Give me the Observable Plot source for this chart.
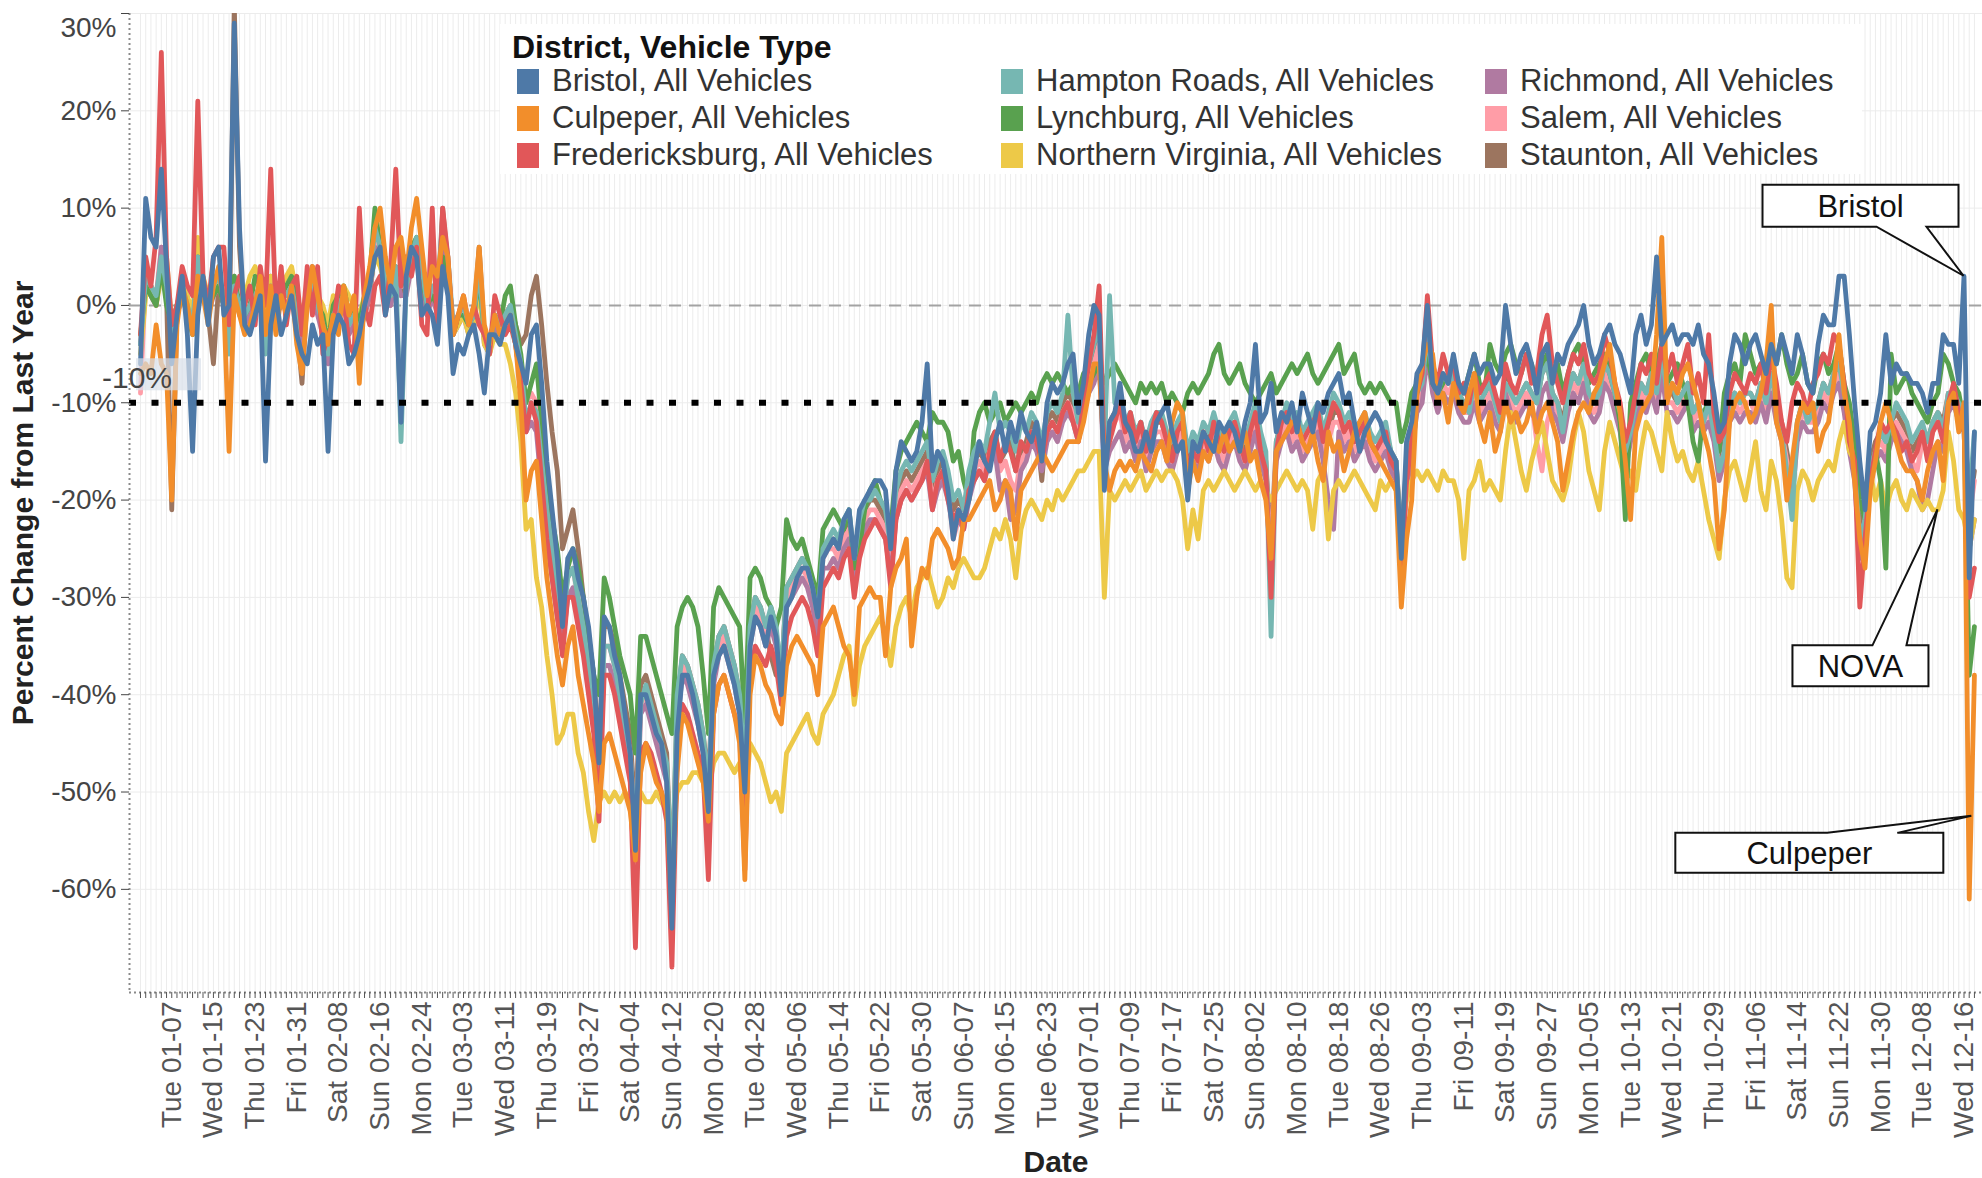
<!DOCTYPE html>
<html>
<head>
<meta charset="utf-8">
<script src="https://cdn.jsdelivr.net/npm/d3@7"></script>
<script src="https://cdn.jsdelivr.net/npm/@observablehq/plot@0.6"></script>
<style>
html, body { margin: 0; padding: 0; background: #fff; overflow: hidden; }
#wrap { position: relative; width: 1982px; height: 1178px; font-family: "Liberation Sans", Arial, sans-serif; }
#wrap svg { position: absolute; left: 0; top: 0; }
.lg { position: absolute; white-space: nowrap; color: #333; }
</style>
</head>
<body>
<div id="wrap"></div>
<script>
// ---------- categories ----------
const districts = ["Bristol", "Culpeper", "Fredericksburg", "Hampton Roads", "Lynchburg", "Northern Virginia", "Richmond", "Salem", "Staunton"];
const palette = ["#4e79a7", "#f28e2b", "#e15759", "#76b7b2", "#59a14f", "#edc948", "#b07aa1", "#ff9da7", "#9c755f"];
const yTicks = [-60, -50, -40, -30, -20, -10, 0, 10, 20, 30];
const firstDay = "2020-01-01"; // series below are daily from this date

// ---------- series (percent change from last year, one value per day) ----------
const bristol = [
-6,11,7,6,14,4,-6, -1,3,-3,-15,-1,3,-2, 5,6,-1,0,29,8,-2, -3,-1,1,-16,-2,1,-3,
-1,1,-3,-5,-6,-2,-4, -3,-15,-3,-1,-2,-6,-5, -3,0,2,5,6,-1,2, 1,-12,3,6,5,-1,0,
-1,-4,4,1,-7,-4,-5, -3,-2,-5,-9,-3,-3,-4, -2,-1,-4,-6,-8,-3,-2, -8,-16,-21,-26,-33,-26,-25,
-28,-30,-33,-38,-47,-32,-33, -36,-38,-42,-46,-56,-40,-40, -42,-44,-45,-49,-64,-44,-38, -38,-40,-43,-46,-52,-38,-36,
-35,-37,-39,-42,-50,-35,-32, -33,-35,-32,-34,-40,-31,-30, -28,-27,-27,-29,-32,-26,-25, -24,-25,-22,-21,-26,-21,-20,
-19,-18,-18,-19,-25,-17,-14, -15,-16,-15,-12,-6,-17,-15, -16,-19,-24,-21,-22,-20,-17, -14,-16,-17,-14,-12,-15,-12,
-14,-11,-13,-14,-12,-16,-10, -8,-9,-8,-6,-5,-11,-8, -3,0,-1,-19,-12,-11,-8, -12,-13,-15,-15,-13,-15,-12,
-11,-10,-13,-15,-14,-20,-14, -15,-13,-14,-15,-12,-13,-12, -13,-15,-12,-10,-4,-12,-11, -8,-13,-11,-12,-10,-13,-9,
-11,-13,-10,-11,-9,-8,-7, -10,-9,-12,-15,-13,-12,-11, -12,-14,-15,-16,-26,-14,-12, -7,-6,0,-8,-9,-7,-8,
-5,-8,-9,-7,-5,-7,-6, -6,-8,-7,0,-4,-7,-5, -4,-6,-9,-5,-4,-8,-5, -6,-4,-3,-2,0,-4,-6,
-5,-3,-2,-4,-5,-7,-9, -3,-1,-4,-2,5,-4,-3, -2,-4,-3,-3,-4,-2,-5, -6,-9,-13,-12,-6,-3,-4,
-6,-4,-3,-5,-7,-4,-6, -3,-5,-7,-3,-5,-8,-9, -4,-1,-2,-2,3,3,-3, -10,-16,-21,-13,-12,-9,-3,
-8,-6,-7,-7,-8,-8,-9, -11,-8,-8,-3,-4,-4,-8, 3,-28,-13];

const culpeper = [
-7,-6,-7,-2,-6,-7,-20, -2,2,0,-3,3,1,-2, 2,4,0,-15,1,-1,-3, -2,0,3,-3,2,-3,1,
-1,2,-4,-7,0,4,1, -2,-4,-1,-3,2,-1,1, -8,1,4,8,10,5,2, 6,7,3,8,11,6,1,
4,3,7,5,-3,-1,1, -2,0,6,-2,-4,-1,-3, -2,-1,-4,-10,-20,-17,-16, -22,-28,-32,-36,-39,-35,-33,
-38,-41,-44,-47,-52,-45,-44, -46,-48,-50,-52,-57,-48,-45, -47,-49,-50,-52,-62,-48,-42, -43,-45,-47,-49,-53,-42,-39,
-38,-40,-42,-45,-59,-40,-36, -37,-39,-40,-42,-43,-37,-35, -34,-35,-36,-37,-40,-33,-32, -31,-33,-35,-36,-40,-31,-30,
-29,-30,-30,-36,-29,-27,-26, -24,-35,-30,-27,-28,-24,-23, -24,-25,-27,-26,-22,-22,-21, -20,-19,-18,-21,-20,-18,-19,
-24,-19,-18,-17,-16,-15,-16, -17,-16,-15,-14,-14,-14,-12, -9,-6,-6,-16,-19,-17,-16, -17,-16,-17,-15,-16,-17,-15,
-14,-16,-12,-10,-11,-19,-16, -18,-15,-16,-14,-15,-13,-15, -14,-15,-13,-16,-15,-18,-20, -26,-15,-14,-13,-12,-12,-14,
-15,-13,-16,-18,-13,-15,-14, -17,-15,-13,-12,-11,-14,-15, -16,-17,-18,-19,-31,-24,-20, -9,-6,-4,-5,-10,-9,-12,
-8,-10,-11,-9,-7,-12,-14, -11,-15,-13,-10,-12,-11,-13, -12,-10,-13,-11,-10,-12,-14, -19,-16,-13,-11,-10,-11,-9,
-8,-6,-4,-8,-11,-16,-22, -13,-11,-10,-9,-3,7,-10, -8,-9,-7,-6,-8,-10,-13, -15,-18,-25,-21,-12,-10,-9,
-10,-12,-11,-9,-6,0,-12, -14,-20,-16,-12,-10,-11,-10, -15,-13,-12,-8,-3,-9,-12, -18,-24,-27,-19,-16,-12,-10,
-12,-14,-16,-17,-17,-18,-20, -17,-15,-14,-18,-10,-9,-13, -10,-61,-38];

const fredericksburg = [
-3,5,2,7,26,5,-2, 0,4,2,1,21,3,0, 5,6,6,-2,1,3,0, 2,-2,4,0,14,-1,4,
-2,2,3,-3,4,-1,4, -5,-3,-2,2,1,-4,-5, 10,0,-2,2,3,-1,4, 14,2,5,3,6,-2,-3,
10,-3,10,5,-3,-1,1, -2,0,-2,-3,-5,1,-1, -3,-2,-4,-8,-13,-10,-12, -18,-24,-28,-32,-36,-30,-30,
-33,-36,-40,-44,-53,-38,-38, -40,-43,-46,-49,-66,-46,-45, -46,-48,-50,-53,-68,-47,-41, -42,-44,-46,-48,-59,-42,-39,
-38,-40,-42,-44,-58,-38,-35, -36,-37,-35,-37,-41,-34,-32, -31,-30,-31,-33,-36,-29,-28, -27,-28,-26,-25,-30,-26,-24,
-23,-22,-23,-24,-29,-22,-20, -19,-20,-19,-18,-16,-21,-18, -17,-20,-22,-21,-23,-19,-18, -17,-18,-15,-13,-16,-14,-15,
-17,-14,-15,-13,-14,-16,-13, -12,-13,-11,-10,-12,-14,-10, -6,-3,2,-16,-14,-12,-10, -13,-11,-14,-12,-15,-13,-11,
-12,-14,-16,-13,-12,-17,-15, -16,-13,-15,-12,-14,-15,-13, -12,-14,-16,-13,-11,-15,-17, -30,-15,-12,-11,-13,-12,-14,
-13,-12,-11,-14,-12,-10,-11, -13,-12,-14,-13,-12,-14,-15, -14,-13,-16,-17,-28,-18,-14, -9,-7,1,-6,-8,-5,-7,
-6,-9,-8,-10,-7,-9,-8, -7,-9,-11,-6,-8,-9,-7, -5,-8,-7,-3,-1,-6,-8, -10,-7,-5,-6,-4,-7,-8,
-7,-3,-5,-8,-10,-14,-12, -9,-6,-7,-5,-8,-4,-7, -5,-8,-6,-4,-9,-7,-10, -3,-11,-14,-13,-9,-7,-8,
-9,-7,-8,-6,-9,-5,-8, -12,-14,-10,-8,-9,-11,-8, -7,-5,-6,-3,-4,-8,-14, -16,-31,-24,-18,-15,-12,-13,
-12,-13,-15,-14,-16,-15,-13, -16,-13,-12,-14,-10,-8,-11, -12,-30,-27];

const hamptonRoads = [
-4,3,2,1,5,2,-3, 0,2,0,-2,5,2,0, 2,3,1,-5,2,0,-1, 0,1,2,-5,2,0,1,
1,2,-1,-3,1,2,0, -2,-5,-1,0,1,-2,-1, -3,0,2,8,6,2,1, 4,-14,2,5,7,4,0,
2,1,9,5,-2,-1,0, -2,-1,4,-3,-4,-1,-2, -1,0,-3,-6,-12,-10,-11, -16,-21,-25,-29,-33,-28,-27,
-30,-33,-37,-40,-48,-35,-35, -37,-40,-43,-46,-55,-41,-39, -41,-43,-45,-47,-60,-40,-36, -37,-39,-41,-44,-50,-37,-34,
-33,-35,-37,-40,-48,-33,-30, -31,-33,-31,-33,-38,-29,-28, -27,-26,-27,-29,-32,-25,-24, -23,-24,-22,-21,-26,-22,-20,
-20,-19,-20,-21,-25,-19,-17, -16,-17,-16,-15,-14,-18,-16, -15,-17,-20,-19,-21,-17,-15, -14,-15,-12,-9,-13,-12,-13,
-15,-12,-13,-11,-12,-14,-11, -10,-11,-9,-1,-9,-12,-9, -6,-4,-2,-15,1,-10,-9, -12,-11,-13,-12,-14,-12,-11,
-11,-13,-14,-12,-11,-15,-13, -14,-12,-13,-11,-13,-14,-12, -11,-13,-14,-12,-10,-13,-15, -34,-14,-12,-10,-12,-11,-13,
-12,-11,-10,-13,-11,-9,-10, -12,-11,-13,-12,-11,-13,-14, -13,-12,-15,-16,-25,-16,-13, -9,-8,-3,-7,-9,-7,-8,
-7,-9,-10,-11,-8,-10,-9, -8,-10,-12,-8,-9,-10,-9, -8,-9,-10,-7,-6,-9,-10, -13,-9,-7,-8,-6,-9,-10,
-9,-6,-7,-9,-11,-15,-13, -10,-8,-9,-7,-9,-5,-9, -8,-10,-9,-8,-11,-10,-12, -10,-13,-17,-15,-10,-9,-10,
-9,-9,-10,-8,-10,-7,-10, -13,-17,-22,-12,-10,-12,-11, -10,-8,-9,-7,-6,-9,-13, -17,-24,-22,-17,-15,-13,-14,
-12,-10,-11,-12,-14,-13,-12, -14,-12,-11,-13,-9,-9,-10, -11,-20,-13];

const lynchburg = [
-3,2,1,0,4,0,-2, 0,1,-1,-3,5,2,0, 1,2,0,-4,3,0,-1, 0,3,2,-3,1,0,1,
2,3,0,-2,1,2,0, -1,-4,0,1,2,-1,0, -2,1,3,10,6,2,1, 4,3,2,6,7,3,0,
1,0,5,3,-3,-1,-1, -2,-1,3,-3,-4,-1,-2, 1,2,-2,-5,-10,-8,-6, -12,-17,-22,-25,-30,-27,-25,
-27,-30,-34,-38,-40,-28,-30, -33,-36,-38,-40,-46,-34,-34, -36,-38,-40,-42,-44,-33,-31, -30,-31,-33,-38,-44,-31,-29,
-30,-31,-32,-33,-43,-28,-27, -28,-30,-31,-33,-31,-22,-24, -25,-24,-26,-28,-30,-23,-22, -21,-22,-23,-21,-27,-25,-21,
-19,-18,-20,-21,-23,-17,-15, -14,-13,-12,-13,-14,-11,-12, -12,-13,-16,-15,-18,-20,-13, -11,-10,-12,-11,-10,-12,-11,
-10,-11,-10,-9,-10,-8,-7, -8,-7,-8,-9,-8,-9,-7, -8,-7,-6,-8,-7,-6,-7, -8,-9,-10,-8,-9,-8,-9,
-8,-10,-9,-10,-11,-9,-8, -9,-8,-7,-5,-4,-7,-8, -7,-6,-8,-9,-10,-9,-8, -7,-9,-8,-7,-6,-7,-6,
-5,-7,-8,-7,-6,-5,-4, -7,-6,-5,-8,-9,-8,-9, -8,-9,-10,-10,-14,-12,-9, -8,-7,-5,-8,-9,-8,-7,
-6,-8,-9,-7,-5,-8,-9, -4,-6,-7,-5,-4,-6,-7, -5,-6,-8,-6,-5,-7,-6, -9,-7,-5,-4,-6,-8,-7,
-6,-5,-7,-9,-12,-22,-10, -8,-6,-5,-7,-6,-4,-8, -7,-6,-8,-10,-14,-16,-11, -10,-12,-15,-9,-7,-6,-8,
-3,-5,-7,-6,-8,-4,-6, -3,-6,-8,-7,-5,-8,-9, -6,-5,-7,-6,-4,-8,-10, -14,-20,-22,-17,-15,-18,-27,
-5,-9,-8,-7,-9,-10,-11, -12,-10,-9,-5,-6,-8,-9, -12,-38,-33];

const northernVirginia = [
-5,1,2,0,3,5,-2, 0,2,1,-1,7,3,1, 2,3,1,-3,2,0,1, 3,4,2,-2,3,1,2,
3,4,1,-1,2,3,1, 0,-2,1,0,2,1,0, -1,1,2,5,4,2,1, 3,4,2,5,6,3,1,
2,1,4,3,-3,-2,-1, -3,-2,2,-4,-5,-3,-4, -4,-6,-9,-14,-23,-22,-28, -31,-36,-40,-45,-44,-42,-42,
-46,-48,-52,-55,-51,-50,-51, -50,-51,-50,-51,-52,-50,-51, -51,-50,-51,-52,-54,-50,-49, -49,-48,-48,-49,-50,-47,-46,
-46,-47,-48,-47,-52,-45,-46, -47,-49,-51,-50,-52,-46,-45, -44,-43,-42,-44,-45,-42,-41, -40,-38,-36,-35,-41,-37,-35,
-34,-33,-32,-34,-37,-33,-31, -30,-32,-29,-28,-27,-29,-31, -30,-28,-29,-27,-26,-27,-28, -28,-27,-25,-23,-24,-22,-24,
-28,-23,-21,-20,-21,-22,-20, -21,-19,-20,-19,-18,-17,-17, -16,-15,-15,-30,-19,-20,-19, -18,-19,-18,-17,-19,-18,-17,
-18,-17,-17,-18,-20,-25,-21, -24,-19,-18,-19,-18,-17,-18, -19,-18,-17,-18,-19,-18,-19, -20,-19,-18,-17,-18,-19,-18,
-19,-23,-18,-17,-24,-19,-18, -19,-18,-17,-18,-19,-20,-21, -18,-19,-18,-19,-23,-20,-18, -17,-18,-17,-18,-19,-17,-18,
-18,-20,-26,-19,-18,-16,-19, -18,-19,-20,-15,-11,-14,-17, -19,-16,-14,-12,-15,-18,-19, -20,-18,-14,-11,-13,-17,-19,
-21,-15,-12,-14,-16,-18,-17, -19,-15,-12,-13,-15,-17,-11, -14,-16,-15,-17,-18,-16,-19, -22,-24,-26,-20,-17,-16,-18,
-20,-17,-14,-19,-21,-16,-18, -22,-28,-29,-19,-17,-18,-20, -18,-17,-16,-17,-14,-12,-15, -16,-18,-19,-17,-20,-18,-21,
-19,-18,-20,-21,-19,-20,-21, -20,-21,-21,-19,-13,-16,-21, -22,-25,-22];

const richmond = [
-4,2,1,0,6,1,-3, -1,1,0,-2,4,1,-1, 1,2,0,-4,3,-1,-2, -1,0,1,-4,3,-1,0,
0,1,-2,-4,1,1,-1, -3,-6,-2,-1,0,-3,-2, -2,-1,1,6,5,1,0, 3,1,1,4,6,2,-1,
1,-1,6,4,-3,-2,-1, -3,-2,3,-4,-5,-2,-3, -2,-1,-4,-8,-13,-12,-13, -19,-24,-28,-32,-35,-30,-29,
-32,-35,-39,-42,-50,-37,-37, -39,-42,-45,-48,-57,-42,-41, -43,-45,-47,-49,-62,-43,-38, -39,-41,-43,-46,-52,-39,-36,
-35,-37,-39,-42,-50,-35,-32, -33,-35,-33,-35,-39,-31,-30, -29,-28,-29,-31,-34,-27,-27, -26,-27,-25,-24,-29,-25,-23,
-22,-22,-23,-24,-28,-22,-20, -19,-20,-19,-18,-17,-21,-19, -18,-20,-23,-22,-23,-20,-18, -17,-18,-16,-15,-19,-18,-22,
-21,-17,-16,-14,-15,-17,-14, -13,-14,-12,-11,-12,-14,-11, -9,-8,-6,-17,-15,-14,-13, -15,-14,-16,-14,-17,-15,-14,
-14,-16,-17,-15,-14,-18,-16, -17,-15,-16,-14,-16,-17,-15, -14,-16,-17,-15,-13,-16,-18, -27,-16,-14,-13,-15,-14,-16,
-15,-14,-13,-16,-20,-23,-13, -15,-14,-16,-15,-14,-16,-17, -16,-15,-17,-18,-27,-19,-15, -11,-10,-5,-9,-11,-9,-10,
-9,-11,-12,-12,-10,-12,-11, -10,-12,-13,-9,-11,-12,-11, -10,-11,-12,-9,-8,-11,-12, -14,-11,-9,-10,-8,-11,-12,
-11,-8,-9,-11,-13,-17,-14, -12,-10,-11,-9,-11,-7,-11, -11,-12,-11,-10,-13,-12,-13, -12,-14,-18,-16,-12,-11,-12,
-11,-11,-12,-10,-12,-9,-12, -14,-18,-20,-14,-12,-13,-13, -12,-10,-11,-9,-8,-11,-15, -18,-26,-23,-18,-16,-15,-16,
-14,-13,-14,-15,-17,-18,-21, -20,-17,-14,-15,-11,-10,-12, -13,-25,-22];

const salem = [
-9,3,2,1,6,2,-3, 0,1,-1,-2,4,2,0, 1,2,1,-4,2,0,-1, 0,1,2,-4,2,0,1,
1,2,-1,-3,2,1,0, -2,-5,-1,0,1,-2,-1, -2,0,2,7,5,2,0, 3,2,2,5,6,3,-1,
1,0,7,4,-2,-1,-1, -2,-1,3,-3,-4,-1,-2, -1,0,-3,-6,-10,-9,-10, -15,-19,-24,-28,-32,-28,-27,
-30,-33,-37,-40,-47,-35,-35, -37,-40,-43,-46,-55,-41,-40, -42,-44,-46,-48,-61,-42,-37, -38,-40,-42,-45,-50,-38,-35,
-34,-36,-38,-41,-49,-34,-31, -32,-34,-32,-34,-38,-30,-29, -28,-27,-28,-30,-33,-26,-25, -25,-26,-24,-23,-28,-24,-22,
-21,-21,-22,-23,-27,-21,-19, -18,-19,-18,-17,-16,-20,-18, -17,-19,-24,-22,-22,-19,-17, -16,-17,-15,-14,-17,-16,-18,
-19,-16,-15,-13,-14,-16,-13, -12,-13,-11,-10,-11,-13,-10, -8,-6,-4,-16,-13,-12,-11, -14,-13,-15,-13,-16,-14,-13,
-13,-15,-16,-14,-13,-17,-15, -16,-14,-15,-13,-15,-16,-14, -13,-15,-16,-14,-12,-15,-17, -26,-15,-13,-12,-14,-13,-15,
-14,-13,-12,-15,-14,-12,-12, -14,-13,-15,-14,-13,-15,-16, -15,-14,-16,-17,-26,-18,-14, -10,-9,-4,-8,-10,-8,-9,
-8,-10,-11,-11,-9,-11,-10, -9,-11,-12,-8,-10,-11,-10, -9,-10,-14,-17,-12,-10,-11, -13,-10,-8,-9,-7,-10,-11,
-10,-7,-8,-10,-12,-16,-13, -11,-9,-10,-8,-10,-6,-10, -10,-11,-10,-9,-12,-11,-12, -11,-13,-17,-15,-11,-10,-11,
-10,-10,-11,-9,-11,-8,-11, -13,-16,-19,-13,-11,-12,-12, -11,-9,-10,-8,-7,-10,-14, -17,-25,-22,-17,-15,-14,-15,
-13,-12,-13,-14,-16,-17,-14, -15,-13,-12,-13,-9,-9,-11, -12,-22,-18];

const staunton = [
-4,2,1,0,5,1,-21, -1,1,0,-2,4,1,-1, -6,2,0,-4,31,6,-2, -1,0,1,-4,2,-1,0,
0,1,-2,-8,1,4,0, -2,-5,-1,0,1,-2,-1, -3,-1,1,6,5,1,0, 3,1,2,5,6,3,-1,
1,0,10,4,-2,-1,-1, -2,-1,6,-3,-4,-1,-2, -1,0,-2,-4,-3,1,3, -2,-8,-13,-17,-25,-23,-21,
-25,-30,-34,-38,-46,-33,-33, -35,-38,-41,-44,-53,-39,-38, -40,-42,-44,-46,-60,-41,-36, -37,-39,-41,-44,-49,-37,-34,
-33,-35,-37,-40,-47,-33,-30, -31,-33,-36,-38,-38,-29,-28, -27,-26,-27,-29,-32,-25,-25, -24,-25,-23,-22,-27,-23,-21,
-20,-20,-21,-22,-26,-20,-18, -17,-18,-17,-16,-15,-19,-17, -16,-18,-21,-20,-21,-18,-16, -15,-16,-14,-13,-16,-15,-14,
-17,-15,-14,-12,-13,-18,-12, -11,-12,-10,-9,-10,-12,-9, -7,-5,-3,-15,-12,-11,-10, -13,-12,-14,-12,-15,-13,-12,
-12,-14,-15,-13,-12,-16,-14, -15,-13,-14,-12,-14,-15,-13, -12,-14,-15,-13,-11,-14,-16, -25,-14,-12,-11,-13,-12,-14,
-13,-12,-11,-14,-13,-11,-11, -13,-12,-14,-13,-12,-14,-15, -14,-13,-15,-16,-24,-17,-13, -9,-8,-3,-7,-9,-7,-8,
-7,-9,-10,-10,-8,-10,-9, -8,-10,-11,-7,-9,-10,-9, -8,-9,-10,-7,-6,-9,-10, -12,-9,-7,-8,-6,-9,-10,
-9,-6,-7,-9,-11,-16,-12, -10,-8,-9,-7,-9,-5,-9, -9,-10,-9,-8,-11,-10,-12, -10,-13,-17,-14,-10,-9,-10,
-9,-9,-10,-8,-10,-7,-10, -12,-15,-18,-12,-10,-11,-11, -10,-8,-9,-7,-6,-9,-13, -16,-23,-21,-16,-14,-13,-14,
-12,-11,-12,-13,-15,-14,-13, -14,-12,-11,-12,-9,-9,-10, -11,-21,-17];

// ---------- annotations (callout text and the point each one marks) ----------
const calloutText = ["Bristol", "NOVA", "Culpeper"];
const calloutDate = ["2020-12-16T00:00Z", "2020-12-11T00:00Z", "2020-12-17T12:00Z"];
const calloutValue = [3, -21, -52.5];
const referenceValue = -10;

// ---------- build table ----------
const seriesList = [bristol, culpeper, fredericksburg, hamptonRoads, lynchburg, northernVirginia, richmond, salem, staunton];
const DAY = 864e5;
const t0 = Date.parse(firstDay + "T00:00Z");
const rows = [];
for (let k = districts.length - 1; k >= 0; k--) {
  seriesList[k].forEach((v, i) => rows.push({district: districts[k], date: new Date(t0 + i * DAY), value: v}));
}
const days = d3.range(bristol.length).map(i => new Date(t0 + i * DAY));
const xDomain = [new Date(t0 - 2.11 * DAY), new Date(t0 + 353.55 * DAY)];
const yMin = -70.6;
const fmt = d3.utcFormat("%a %m-%d");
const tickLabel = d => {
  const i = Math.round((d - t0) / DAY);
  return (i >= 6 && (i - 6) % 8 === 0) ? fmt(d) : "";
};
const FONT = '"Liberation Sans", Arial, Helvetica, sans-serif';

const chart = Plot.plot({
  width: 1982, height: 1178,
  marginLeft: 129, marginRight: 0, marginTop: 13, marginBottom: 186,
  style: {fontFamily: FONT, background: "transparent", color: "#333", overflow: "visible"},
  x: {type: "utc", domain: xDomain},
  y: {domain: [yMin, 30]},
  color: {domain: districts, range: palette},
  marks: [
    Plot.gridX(days, {stroke: "#ececec", strokeOpacity: 1, strokeWidth: 1}),
    Plot.gridY(yTicks, {stroke: "#ececec", strokeOpacity: 1, strokeWidth: 1}),
    Plot.ruleY([0], {stroke: "#a3a3a3", strokeWidth: 2, strokeDasharray: "12,8"}),
    Plot.lineY(rows, {x: "date", y: "value", z: "district", stroke: "district", strokeWidth: 4.8, strokeLinejoin: "round", strokeLinecap: "round", clip: true}),
    Plot.ruleY([referenceValue], {stroke: "#000", strokeWidth: 6, strokeDasharray: "7,15.5"}),
    Plot.ruleX([xDomain[0]], {stroke: "#8a8a8a", strokeWidth: 2, strokeDasharray: "2,3"}),
    Plot.ruleY([yMin], {stroke: "#8a8a8a", strokeWidth: 2, strokeDasharray: "2,3"}),
    Plot.axisY(yTicks.filter(v => v < 30), {tickFormat: v => v + "%", fontSize: 28, tickSize: 8, tickPadding: 5, color: "#444", label: null}),
    Plot.axisY([30], {tickFormat: () => "", tickSize: 8, color: "#444", label: null}),
    Plot.axisY([30], {tickFormat: v => v + "%", fontSize: 28, tickSize: 0, tickPadding: 13, dy: 15, color: "#444", label: null}),
    Plot.axisX(days, {tickFormat: tickLabel, tickRotate: -90, fontSize: 28, tickSize: 6, tickPadding: 3, color: "#555", label: null}),
    Plot.text(["Percent Change from Last Year"], {text: d => d, frameAnchor: "left", dx: -106, rotate: -90, textAnchor: "middle", lineAnchor: "middle", fontSize: 30, fontWeight: "bold", fill: "#222"}),
    Plot.text(["Date"], {text: d => d, frameAnchor: "bottom", dy: 170, textAnchor: "middle", lineAnchor: "middle", fontSize: 30, fontWeight: "bold", fill: "#222"})
  ]
});

const wrap = document.getElementById("wrap");
wrap.appendChild(chart);

// ---------- reference-line label and callouts, placed through the chart's scales ----------
const sx = chart.scale("x"), sy = chart.scale("y");
const svg = d3.select(chart);
const g = svg.append("g").attr("font-family", FONT);
const rx = sx.apply(xDomain[0]), ry = sy.apply(referenceValue);
g.append("rect").attr("x", rx + 7).attr("y", ry - 44).attr("width", 65).attr("height", 32)
  .attr("fill", "#d8e0ea").attr("fill-opacity", 0.7);
g.append("text").attr("x", rx + 8).attr("y", ry - 14).attr("font-size", 30).attr("fill", "#444")
  .text(referenceValue + "%");

const calloutLayout = [
  {box: [-201, -91, -5, -49], side: "bottom", base: [-87, -37]},
  {box: [-145, 136, -9, 177], side: "top", base: [-65, -31]},
  {box: [-296, 17, -28, 57], side: "top", base: [-144, -74]}
];
calloutText.forEach((label, i) => {
  const tx = sx.apply(new Date(calloutDate[i])), ty = sy.apply(calloutValue[i]);
  const L = calloutLayout[i];
  const [l, t, r, b] = [tx + L.box[0], ty + L.box[1], tx + L.box[2], ty + L.box[3]];
  const b1 = tx + L.base[0], b2 = tx + L.base[1];
  const p = L.side === "top"
    ? `M${l},${t}L${b1},${t}L${tx},${ty}L${b2},${t}L${r},${t}L${r},${b}L${l},${b}Z`
    : `M${l},${t}L${r},${t}L${r},${b}L${b2},${b}L${tx},${ty}L${b1},${b}L${l},${b}Z`;
  g.append("path").attr("d", p).attr("fill", "#fff").attr("stroke", "#111").attr("stroke-width", 2);
  g.append("text").attr("x", (l + r) / 2).attr("y", (t + b) / 2).attr("dy", "0.36em")
    .attr("text-anchor", "middle").attr("font-size", 31).attr("fill", "#111").text(label);
});

// ---------- legend (overlaid on the plot, as in the original) ----------
const lgBox = document.createElement("div");
lgBox.className = "lg";
Object.assign(lgBox.style, {left: "500px", top: "24px", width: "1362px", height: "150px", background: "#fff"});
wrap.appendChild(lgBox);
const title = document.createElement("div");
title.className = "lg";
Object.assign(title.style, {left: "512px", top: "30px", fontSize: "32px", fontWeight: "bold", color: "#111", lineHeight: "34px"});
title.textContent = "District, Vehicle Type";
wrap.appendChild(title);
const colX = [517, 1001, 1485];
districts.forEach((name, i) => {
  const col = Math.floor(i / 3), row = i % 3;
  const cy = 81 + row * 37;
  const sw = document.createElement("div");
  sw.className = "lg";
  Object.assign(sw.style, {left: colX[col] + "px", top: (cy - 12) + "px", width: "22px", height: "25px", background: palette[i]});
  wrap.appendChild(sw);
  const tx = document.createElement("div");
  tx.className = "lg";
  Object.assign(tx.style, {left: (colX[col] + 35) + "px", top: (cy - 18) + "px", fontSize: "31px", lineHeight: "36px", color: "#333"});
  tx.textContent = name + ", All Vehicles";
  wrap.appendChild(tx);
});
</script>
</body>
</html>
